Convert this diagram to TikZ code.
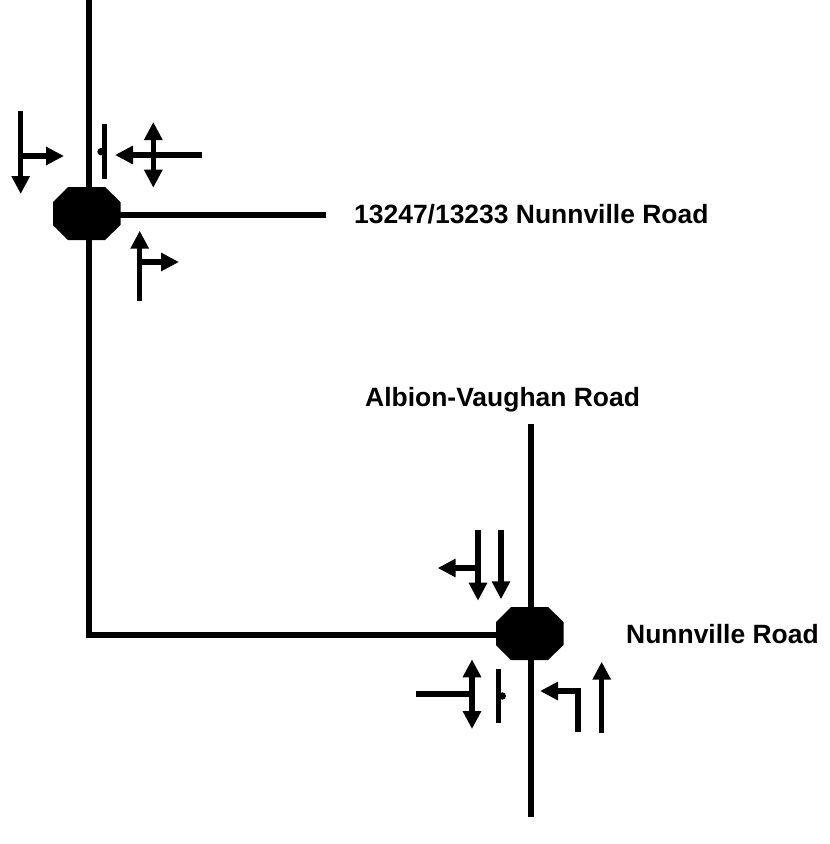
\documentclass[tikz,border=0pt]{standalone}
\usepackage{fontspec}
\setmainfont{Liberation Sans}
\usetikzlibrary{arrows.meta}
\tikzset{
  road/.style={line width=6pt},
  lane/.style={line width=5.4pt},
  tip/.style={-{Triangle[length=18pt,width=17.5pt]}},
  tips/.style={{Triangle[length=18pt,width=17.5pt]}-{Triangle[length=18pt,width=17.5pt]}},
  signal/.style={fill=black},
  label/.style={font=\bfseries\fontsize{26.45}{30}\selectfont,anchor=base west,inner sep=0pt},
}
\begin{document}
\begin{tikzpicture}[x=1pt,y=-1pt]
\useasboundingbox (0,0) rectangle (830,844);
% roads
\coordinate (r1a) at (89,0);
\coordinate (corner) at (89,635);
\coordinate (r2e) at (326,215);
\coordinate (r3a) at (530.5,424);
\coordinate (r3b) at (530.5,817);
\coordinate (s1c) at (87,215);
\coordinate (s2c) at (530.5,635);
\draw[road,line cap=rect,line join=miter] (r1a) -- (corner) -- (s2c);
\draw[road] (s1c) -- (r2e);
\draw[road] (r3a) -- (r3b);
% signals
\fill[signal] (68,187) -- (105,187) -- (120.5,202) -- (120.5,225) -- (105,240) -- (68,240) -- (53,225) -- (53,202) -- cycle;
\fill[signal] (511,607) -- (548,607) -- (563.5,622) -- (563.5,645) -- (548,660) -- (511,660) -- (496,645) -- (496,622) -- cycle;
% top intersection lanes
\coordinate (a0) at (20.7,110.5);
\coordinate (a1) at (20.7,194);
\coordinate (a2) at (20.7,156);
\coordinate (a3) at (64,156);
\draw[lane,tip] (a0) -- (a1);
\draw[lane,tip] (a2) -- (a3);
\coordinate (b0) at (104.3,124);
\coordinate (b1) at (104.3,179);
\draw[lane] (b0) -- (b1);
\fill (101,151.7) circle (3.7pt);
\coordinate (c0) at (201.7,155);
\coordinate (c1) at (115,155);
\coordinate (c2) at (153.3,122);
\coordinate (c3) at (153.3,187.7);
\draw[lane,tip] (c0) -- (c1);
\draw[lane,tips] (c2) -- (c3);
\coordinate (d0) at (139.7,300.7);
\coordinate (d1) at (139.7,230.7);
\coordinate (d2) at (139.7,262);
\coordinate (d3) at (179,262);
\draw[lane,tip] (d0) -- (d1);
\draw[lane,tip] (d2) -- (d3);
% bottom intersection lanes
\coordinate (e0) at (478,530);
\coordinate (e1) at (478,600.7);
\coordinate (e2) at (478,568);
\coordinate (e3) at (437.7,568);
\draw[lane,tip] (e0) -- (e1);
\draw[lane,tip] (e2) -- (e3);
\coordinate (f0) at (501,530);
\coordinate (f1) at (501,599.3);
\draw[lane,tip] (f0) -- (f1);
\coordinate (g0) at (472,659.3);
\coordinate (g1) at (472,729);
\coordinate (g2) at (416,694);
\coordinate (g3) at (472,694);
\draw[lane,tips] (g0) -- (g1);
\draw[lane] (g2) -- (g3);
\coordinate (h0) at (498.3,668.7);
\coordinate (h1) at (498.3,723);
\draw[lane] (h0) -- (h1);
\fill (502.3,696) circle (3.7pt);
\coordinate (i0) at (578,732);
\coordinate (i1) at (578,691);
\coordinate (i2) at (540,691);
\draw[lane,tip,line join=miter] (i0) -- (i1) -- (i2);
\coordinate (j0) at (601.7,733);
\coordinate (j1) at (601.7,661.7);
\draw[lane,tip] (j0) -- (j1);
% labels
\node[label] (t1) at (354,223.3) {13247/13233 Nunnville Road};
\node[label] (t2) at (365,406) {Albion-Vaughan Road};
\node[label] (t3) at (626,643) {Nunnville Road};
\end{tikzpicture}
\end{document}
